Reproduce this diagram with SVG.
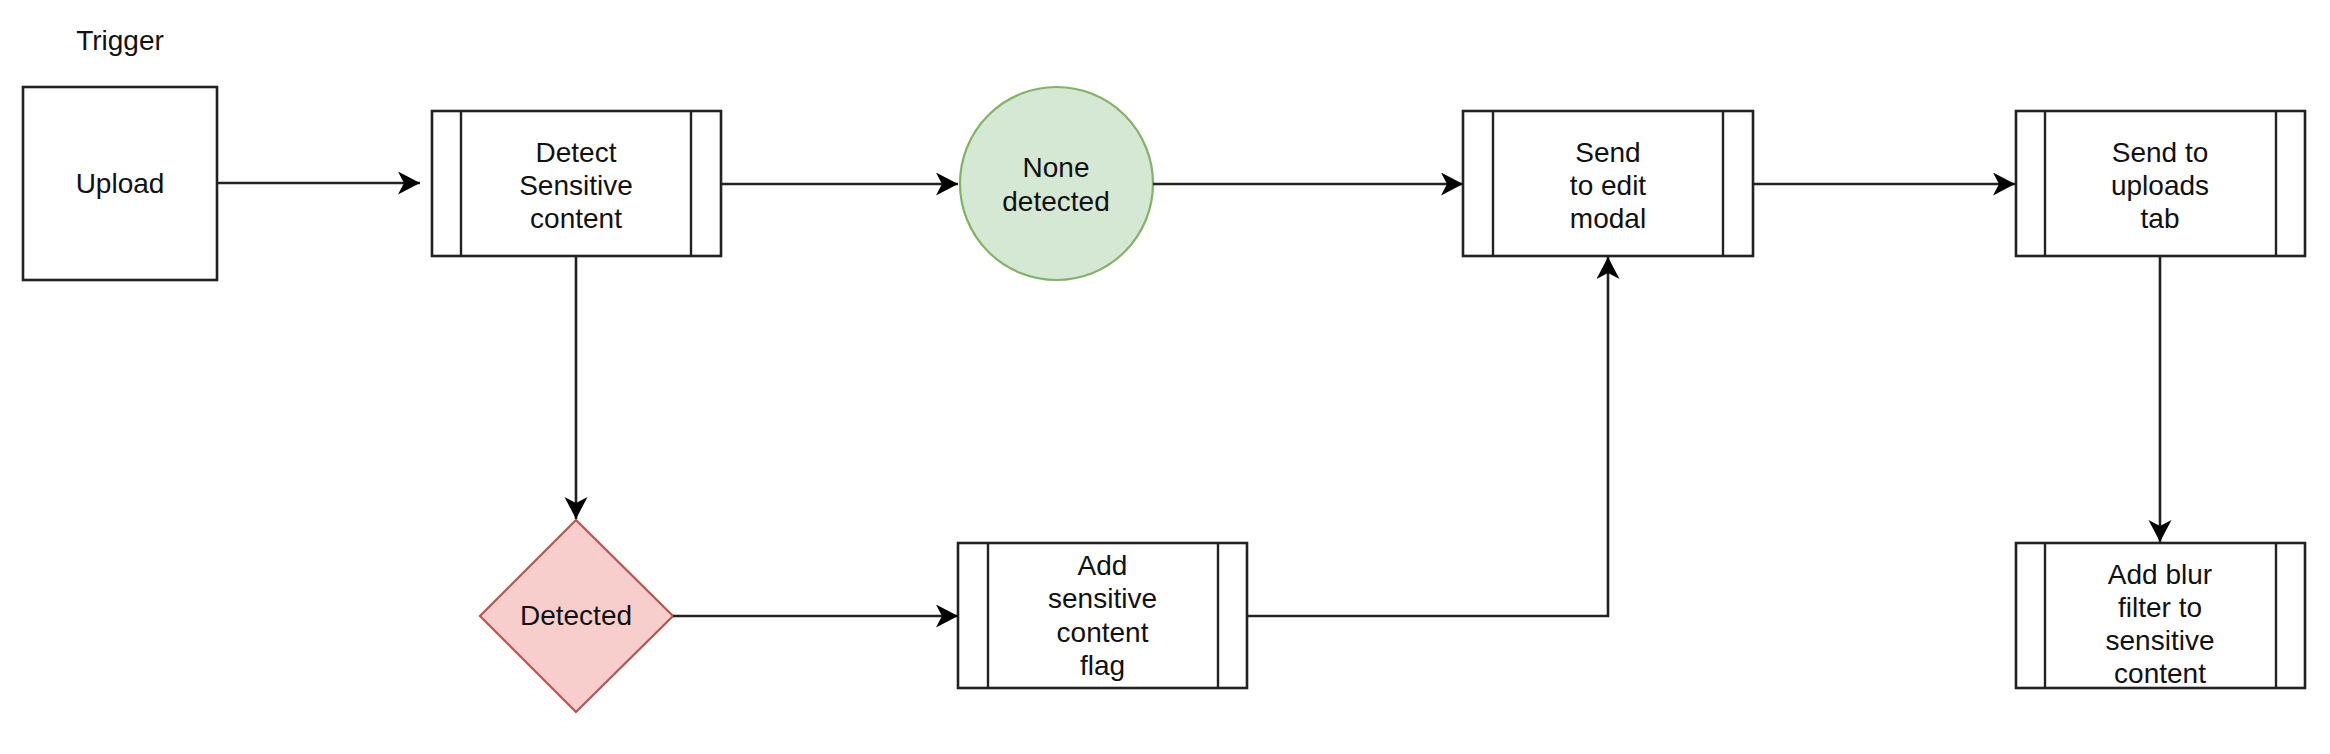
<svg xmlns="http://www.w3.org/2000/svg" width="2330" height="754" viewBox="0 0 2330 754">
<style>
.box{fill:#ffffff;stroke:#222;stroke-width:2.6}
.inner{fill:none;stroke:#222;stroke-width:2.4}
.t{font-family:"Liberation Sans",Arial,Helvetica,sans-serif;font-size:28px;fill:#111;text-anchor:middle}
.c{fill:none;stroke:#222;stroke-width:2.6}
</style>
<defs>
<marker id="arr" markerUnits="userSpaceOnUse" markerWidth="24" markerHeight="24" refX="22" refY="11.5" orient="auto" viewBox="0 0 24 24">
<path d="M0,0 L22,11.5 L0,23 L6,11.5 Z" fill="#000"/>
</marker>
</defs>
<rect width="2330" height="754" fill="#ffffff"/>

<text id="trigger-label" class="t" x="120" y="50">Trigger</text>

<g id="upload">
<rect class="box" x="23" y="87" width="194" height="193"/>
<text class="t" x="120" y="193">Upload</text>
</g>

<g id="detect">
<rect class="box" x="432" y="111" width="289" height="145"/>
<line class="inner" x1="461" y1="111" x2="461" y2="256"/>
<line class="inner" x1="691" y1="111" x2="691" y2="256"/>
<text class="t" x="576" y="162">Detect</text>
<text class="t" x="576" y="195">Sensitive</text>
<text class="t" x="576" y="228">content</text>
</g>

<g id="none-detected">
<circle cx="1056.5" cy="183.5" r="96.5" fill="#d5e8d4" stroke="#82b366" stroke-width="2.2"/>
<text class="t" x="1056" y="177">None</text>
<text class="t" x="1056" y="211">detected</text>
</g>

<g id="edit-modal">
<rect class="box" x="1463" y="111" width="290" height="145"/>
<line class="inner" x1="1493" y1="111" x2="1493" y2="256"/>
<line class="inner" x1="1723" y1="111" x2="1723" y2="256"/>
<text class="t" x="1608" y="162">Send</text>
<text class="t" x="1608" y="195">to edit</text>
<text class="t" x="1608" y="228">modal</text>
</g>

<g id="uploads-tab">
<rect class="box" x="2016" y="111" width="289" height="145"/>
<line class="inner" x1="2045" y1="111" x2="2045" y2="256"/>
<line class="inner" x1="2276" y1="111" x2="2276" y2="256"/>
<text class="t" x="2160" y="162">Send to</text>
<text class="t" x="2160" y="195">uploads</text>
<text class="t" x="2160" y="228">tab</text>
</g>

<g id="detected">
<polygon points="576,520 673,616 576,712 480,616" fill="#f8cecc" stroke="#b85450" stroke-width="2.2"/>
<text class="t" x="576" y="625">Detected</text>
</g>

<g id="add-flag">
<rect class="box" x="958" y="543" width="289" height="145"/>
<line class="inner" x1="988" y1="543" x2="988" y2="688"/>
<line class="inner" x1="1218" y1="543" x2="1218" y2="688"/>
<text class="t" x="1102.5" y="575">Add</text>
<text class="t" x="1102.5" y="608">sensitive</text>
<text class="t" x="1102.5" y="642">content</text>
<text class="t" x="1102.5" y="675">flag</text>
</g>

<g id="add-blur">
<rect class="box" x="2016" y="543" width="289" height="145"/>
<line class="inner" x1="2045" y1="543" x2="2045" y2="688"/>
<line class="inner" x1="2276" y1="543" x2="2276" y2="688"/>
<text class="t" x="2160" y="584">Add blur</text>
<text class="t" x="2160" y="617">filter to</text>
<text class="t" x="2160" y="650">sensitive</text>
<text class="t" x="2160" y="683">content</text>
</g>

<g id="connectors">
<path class="c" d="M217,183 L420,183" marker-end="url(#arr)"/>
<path class="c" d="M721,184 L958,184" marker-end="url(#arr)"/>
<path class="c" d="M1153,184 L1463,184" marker-end="url(#arr)"/>
<path class="c" d="M1753,184 L2015,184" marker-end="url(#arr)"/>
<path class="c" d="M576,256 L576,519" marker-end="url(#arr)"/>
<path class="c" d="M673,616 L958,616" marker-end="url(#arr)"/>
<path class="c" d="M1247,616 L1608,616 L1608,257" marker-end="url(#arr)"/>
<path class="c" d="M2160,256 L2160,542" marker-end="url(#arr)"/>
</g>
</svg>
